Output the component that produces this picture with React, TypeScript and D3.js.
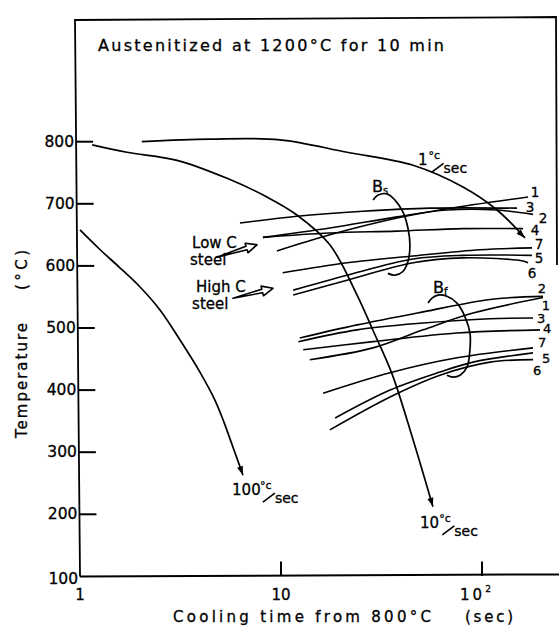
import React from "react";
import * as d3 from "d3";

type Pt = [number, number];

// ---- axes ----
const X_TICKS = [10, 100];
const X_TICK_LABELS: [number, string, string][] = [
  [1, "1", ""],
  [10, "10", ""],
  [100, "10", "2"],
];
const Y_TICKS = [200, 300, 400, 500, 600, 700, 800];
const Y_TICK_LABELS = [100, 200, 300, 400, 500, 600, 700, 800];

// ---- cooling curves (time s, temperature °C) ----
const COOL_1: Pt[] = [[2.03, 800], [4.43, 804], [9.89, 803], [21.3, 783], [45.4, 762], [80.4, 727], [118.8, 690], [163.7, 645]];
const COOL_10: Pt[] = [[1.15, 795], [1.71, 783], [3.04, 770], [5.39, 741], [8.51, 711], [12.0, 682], [17.5, 634], [23.9, 553], [28.7, 496], [35.6, 427], [45.4, 320], [57.0, 212]];
const COOL_100: Pt[] = [[1.0, 658], [1.26, 626], [1.58, 597], [1.99, 566], [2.5, 529], [3.14, 481], [3.95, 429], [4.69, 384], [5.15, 352], [5.77, 308], [6.47, 263]];

// ---- bainite start (Bs) lines, steels 1..7 ----
const BS_1: Pt[] = [[9.55, 624], [17.5, 650], [37.8, 677], [66.9, 692], [169.4, 711]];
const BS_2: Pt[] = [[8.13, 646], [17.5, 661], [37.8, 679], [66.9, 690], [118.8, 690], [179.4, 683]];
const BS_3: Pt[] = [[6.25, 669], [12.0, 680], [25.6, 688], [55.1, 693], [149.3, 693]];
const BS_4: Pt[] = [[8.13, 646], [17.5, 653], [37.8, 656], [80.4, 660], [160, 660]];
const BS_5: Pt[] = [[11.5, 561], [21.3, 585], [45.4, 611], [80.4, 617], [177.4, 617]];
const BS_6: Pt[] = [[11.5, 553], [21.3, 577], [45.4, 605], [80.4, 613], [160, 608], [169.4, 605]];
const BS_7: Pt[] = [[10.2, 589], [21.3, 605], [45.4, 616], [97.7, 626], [177.4, 629]];

// ---- bainite finish (Bf) lines, steels 1..7 ----
const BF_1: Pt[] = [[13.9, 449], [28.7, 468], [50.9, 497], [90.2, 524], [201, 549]];
const BF_2: Pt[] = [[12.4, 484], [23.9, 505], [50.9, 526], [109.6, 546], [201, 551]];
const BF_3: Pt[] = [[12.2, 478], [23.9, 497], [50.9, 508], [109.6, 515], [179.4, 516]];
const BF_4: Pt[] = [[12.9, 465], [28.7, 478], [75.1, 492], [194.4, 497]];
const BF_5: Pt[] = [[18.6, 355], [34.9, 400], [61.8, 429], [90.2, 445], [179.4, 460]];
const BF_6: Pt[] = [[17.5, 336], [34.9, 389], [61.8, 424], [109.6, 445], [179.4, 449]];
const BF_7: Pt[] = [[16.2, 395], [34.9, 428], [75.1, 452], [179.4, 468]];

const STEEL_NAMES = ["1", "2", "3", "4", "5", "6", "7"];

// ---- bracket arcs ----
const BS_ARC: Pt[] = [[28.7, 706], [30.4, 714], [33.7, 716], [36.9, 706], [40.4, 687], [42.8, 661], [43.8, 634], [42.8, 607], [40.4, 591], [36.9, 585], [34.0, 588]];
const BF_ARC: Pt[] = [[53.9, 540], [56.4, 548], [60.4, 553], [66.9, 551], [75.1, 540], [82.3, 518], [87.1, 492], [87.1, 465], [84.2, 437], [77.8, 424], [71.8, 421], [66.9, 424]];

// ---- annotation anchors (time, temp) ----
const RATE_LABELS: [number, number, string][] = [[48.0, 762, "1"], [5.71, 231, "100"], [49.2, 178, "10"]];
const STEEL_TEXT: [number, number, string][] = [[3.61, 629, "Low C"], [3.78, 558, "High C"]];
const STEEL_ARROWS: [Pt, Pt][] = [[[4.8, 614], [7.6, 634]], [[5.77, 548], [9.12, 564]]];
const B_LABELS: [number, number, string][] = [[28.4, 719, "s"], [57.0, 556, "f"]];

// ---- layout ----
const W = 559, H = 628;
const FONT = "'DejaVu Sans', sans-serif";
const BS_LABEL_OFF: Pt[] = [[7, -5], [10, 4], [13, -1], [12, 1], [7, 3], [4, 10], [7, -4]];
const BF_LABEL_OFF: Pt[] = [[3, 8], [-1, -8], [8, 0], [7, -1], [13, 6], [4, 11], [9, -5]];

const x = d3.scaleLog().domain([1, 100]).range([80, 482]);
const y = d3.scaleLinear().domain([100, 800]).range([576.4, 141.7]);
const lineGen = d3.line<Pt>().x(d => x(d[0])).y(d => y(d[1])).curve(d3.curveCatmullRom.alpha(0.5));

// slight scan tilt of the left axis
const axisX = (py: number) => 75 + (py - 20) * 0.009;

function ArrowHead({ pts }: { pts: Pt[] }) {
  const a = pts[pts.length - 2], b = pts[pts.length - 1];
  const x1 = x(a[0]), y1 = y(a[1]), x2 = x(b[0]), y2 = y(b[1]);
  const dx = x2 - x1, dy = y2 - y1, L = Math.hypot(dx, dy);
  const ux = dx / L, uy = dy / L, nx = -uy, ny = ux;
  const len = 9, hw = 3;
  const bx = x2 - ux * len, by = y2 - uy * len;
  return <polygon points={`${x2},${y2} ${bx + nx * hw},${by + ny * hw} ${bx - nx * hw},${by - ny * hw}`} fill="#000" />;
}

function HollowArrow({ from, to }: { from: Pt; to: Pt }) {
  const x1 = x(from[0]), y1 = y(from[1]), x2 = x(to[0]), y2 = y(to[1]);
  const dx = x2 - x1, dy = y2 - y1, L = Math.hypot(dx, dy);
  const ux = dx / L, uy = dy / L, nx = -uy, ny = ux;
  const hl = 11;
  const bx = x2 - ux * hl, by = y2 - uy * hl;
  const p = (px: number, py: number) => `${px.toFixed(1)},${py.toFixed(1)}`;
  const pts = [
    p(x1, y1),
    p(bx + nx * 1.8, by + ny * 1.8),
    p(bx + nx * 5, by + ny * 5),
    p(x2, y2),
    p(bx - nx * 5, by - ny * 5),
    p(bx - nx * 1.8, by - ny * 1.8),
  ];
  return <polygon points={pts.join(" ")} fill="#fff" stroke="#000" strokeWidth={1.6} strokeLinejoin="round" />;
}

function RateLabel({ t, temp, num }: { t: number; temp: number; num: string }) {
  const px = x(t), py = y(temp);
  const nw = num.length * 8.6;
  return (
    <g fontFamily={FONT} fill="#000" stroke="#000" strokeWidth={0.3}>
      <text x={px} y={py} fontSize={15}>{num}</text>
      <text x={px + nw + 2} y={py - 6} fontSize={11}>°c</text>
      <line x1={px + nw + 5} y1={py + 7} x2={px + nw + 17} y2={py - 2} stroke="#000" strokeWidth={1.6} />
      <text x={px + nw + 17} y={py + 8} fontSize={14}>sec</text>
    </g>
  );
}

export default function App() {
  const bsLines = [BS_1, BS_2, BS_3, BS_4, BS_5, BS_6, BS_7];
  const bfLines = [BF_1, BF_2, BF_3, BF_4, BF_5, BF_6, BF_7];
  const cooling = [COOL_1, COOL_10, COOL_100];
  const yBase = y(100);
  const txt = { fontFamily: FONT, fill: "#000", stroke: "#000", strokeWidth: 0.3 };

  return (
    <svg width={W} height={H} viewBox={`0 0 ${W} ${H}`} style={{ position: "absolute", left: 0, top: 0, background: "#fff" }}>
      <rect width={W} height={H} fill="#fff" />
      {/* frame */}
      <path d={`M${axisX(yBase)},${yBase} L${axisX(20)},20 L556,17 L557,265`} fill="none" stroke="#000" strokeWidth={1.8} />
      <line x1={axisX(yBase)} y1={yBase} x2={W} y2={yBase - 2} stroke="#000" strokeWidth={2} />

      {/* y ticks */}
      {Y_TICKS.map(v => (
        <line key={v} x1={axisX(y(v))} y1={y(v)} x2={axisX(y(v)) + 17} y2={y(v)} stroke="#000" strokeWidth={2} />
      ))}
      {Y_TICK_LABELS.map(v => (
        <text key={v} {...txt} x={axisX(y(v)) - 2} y={y(v) + (v === 100 ? 3 : 0)} textAnchor="end" dominantBaseline="central" fontSize={15.5}>{v}</text>
      ))}
      {/* x ticks */}
      {X_TICKS.map(v => (
        <line key={v} x1={x(v)} y1={yBase - 0.5} x2={x(v)} y2={yBase - 15} stroke="#000" strokeWidth={2} />
      ))}
      {X_TICK_LABELS.map(([v, base, sup]) => (
        <text key={v} {...txt} x={x(v) - (sup ? 5 : 0)} y={600} textAnchor="middle" fontSize={15} letterSpacing={sup ? 3 : 0}>
          {base}
          {sup && <tspan fontSize={9} dy={-8}>{sup}</tspan>}
        </text>
      ))}

      {/* axis titles */}
      <text {...txt} x={173} y={622} fontSize={15} textLength={258} lengthAdjust="spacing">Cooling time from 800°C</text>
      <text {...txt} x={465} y={622} fontSize={15} textLength={48} lengthAdjust="spacing">(sec)</text>
      <text {...txt} transform="translate(27,438) rotate(-90)" fontSize={15} textLength={115} lengthAdjust="spacing">Temperature</text>
      <text {...txt} transform="translate(27,290) rotate(-90)" fontSize={15} textLength={40} lengthAdjust="spacing">(°C)</text>

      {/* title */}
      <text {...txt} x={98} y={51} fontSize={16} textLength={346} lengthAdjust="spacing">Austenitized at 1200°C for 10 min</text>

      {/* cooling curves */}
      {cooling.map((c, i) => (
        <g key={i}>
          <path d={lineGen(c) || ""} fill="none" stroke="#000" strokeWidth={1.7} />
          <ArrowHead pts={c} />
        </g>
      ))}
      {RATE_LABELS.map(([t, temp, num]) => <RateLabel key={num} t={t} temp={temp} num={num} />)}

      {/* Bs & Bf lines */}
      {bsLines.map((l, i) => (
        <g key={"bs" + i}>
          <path d={lineGen(l) || ""} fill="none" stroke="#000" strokeWidth={1.6} />
          <text {...txt} x={x(l[l.length - 1][0]) + BS_LABEL_OFF[i][0]} y={y(l[l.length - 1][1]) + BS_LABEL_OFF[i][1]} textAnchor="middle" dominantBaseline="central" fontSize={13.5}>{STEEL_NAMES[i]}</text>
        </g>
      ))}
      {bfLines.map((l, i) => (
        <g key={"bf" + i}>
          <path d={lineGen(l) || ""} fill="none" stroke="#000" strokeWidth={1.6} />
          <text {...txt} x={x(l[l.length - 1][0]) + BF_LABEL_OFF[i][0]} y={y(l[l.length - 1][1]) + BF_LABEL_OFF[i][1]} textAnchor="middle" dominantBaseline="central" fontSize={13}>{STEEL_NAMES[i]}</text>
        </g>
      ))}

      {/* brackets */}
      <path d={lineGen(BS_ARC) || ""} fill="none" stroke="#000" strokeWidth={1.7} />
      <path d={lineGen(BF_ARC) || ""} fill="none" stroke="#000" strokeWidth={1.7} />
      {B_LABELS.map(([t, temp, sub]) => (
        <text key={sub} {...txt} x={x(t)} y={y(temp)} fontSize={16}>
          B<tspan fontSize={10} dy={2}>{sub}</tspan>
        </text>
      ))}

      {/* steel annotations */}
      {STEEL_TEXT.map(([t, temp, label], i) => (
        <g key={label}>
          <text {...txt} x={x(t)} y={y(temp)} fontSize={15}>{label}</text>
          <text {...txt} x={x(t) - (i === 0 ? 2 : 4)} y={y(temp) + 17} fontSize={15}>steel</text>
        </g>
      ))}
      {STEEL_ARROWS.map(([a, b], i) => <HollowArrow key={i} from={a} to={b} />)}
    </svg>
  );
}
